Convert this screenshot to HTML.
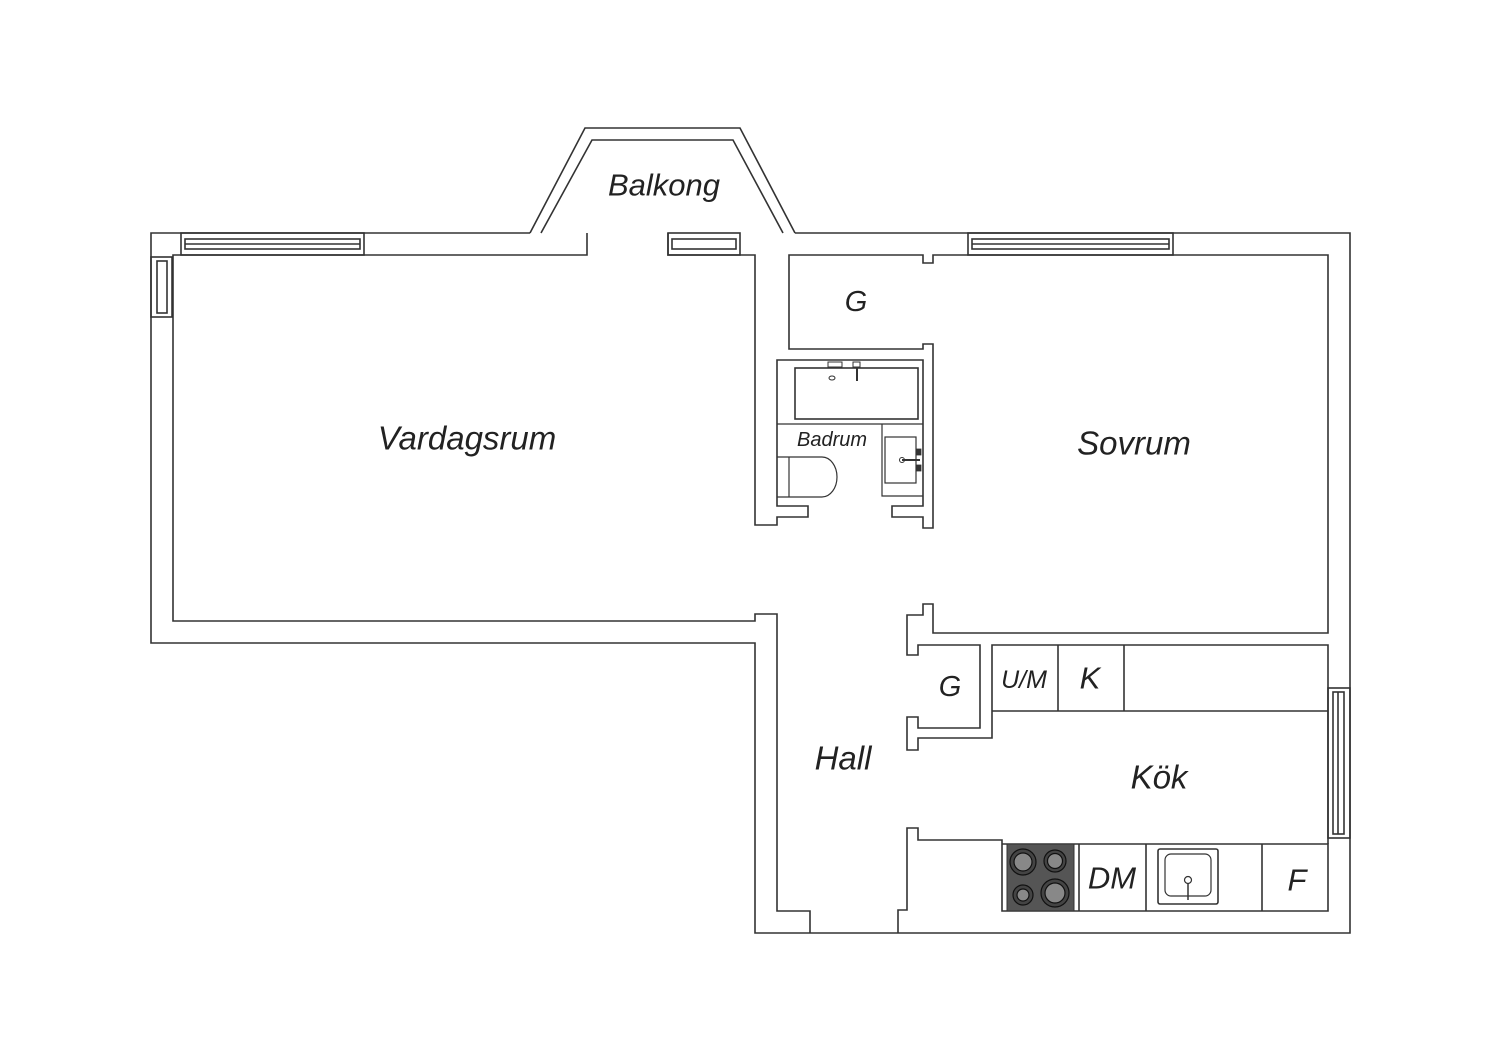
<!DOCTYPE html>
<html><head><meta charset="utf-8"><style>
html,body{margin:0;padding:0;background:#fff;}
svg{display:block;}
text{font-family:"Liberation Sans",sans-serif;font-style:italic;fill:#222;text-anchor:middle;dominant-baseline:central;}
</style></head><body>
<svg width="1500" height="1060" viewBox="0 0 1500 1060" xmlns="http://www.w3.org/2000/svg">
<g fill="none" stroke="#333" stroke-width="1.6" stroke-linejoin="miter">
<!-- outer -->
<polyline points="530,233 151,233 151,643 755,643 755,933 810,933"/>
<polyline points="898,933 1350,933 1350,233 795,233"/>
<line x1="810" y1="933" x2="898" y2="933"/>
<!-- balcony -->
<polyline points="530,233 585,128 740,128 795,233"/>
<polyline points="541,233 592,140 733,140 783,233"/>
<!-- vardagsrum -->
<polyline points="587,233 587,255 173,255 173,621 755,621 755,614 777,614 777,911 810,911 810,933"/>
<polyline points="668,233 668,255 755,255 755,525 777,525 777,517 808,517 808,506 777,506 777,360 923,360 923,506 892,506 892,517 923,517 923,528 933,528 933,344 923,344 923,349 789,349 789,255 923,255 923,263 933,263 933,255 1328,255 1328,633 933,633 933,604 923,604 923,615 907,615 907,655 918,655 918,645 980,645 980,728 918,728 918,717 907,717 907,750 918,750 918,738 992,738 992,645 1328,645 1328,844"/>
<line x1="992" y1="711" x2="1328" y2="711"/>
<line x1="1058" y1="645" x2="1058" y2="711"/>
<line x1="1124" y1="645" x2="1124" y2="711"/>
<!-- lower counter -->
<polyline points="898,933 898,910 907,910 907,828 918,828 918,840 1002,840 1002,911 1328,911 1328,844 1002,844"/>
<line x1="1079" y1="844" x2="1079" y2="911"/>
<line x1="1146" y1="844" x2="1146" y2="911"/>
<line x1="1262" y1="844" x2="1262" y2="911"/>
<!-- windows -->
<rect x="181" y="233" width="183" height="22"/>
<rect x="185" y="239" width="175" height="10"/>
<line x1="185" y1="244" x2="360" y2="244"/>
<rect x="668" y="233" width="72" height="22"/>
<rect x="672" y="239" width="64" height="10"/>
<rect x="968" y="233" width="205" height="22"/>
<rect x="972" y="239" width="197" height="10"/>
<line x1="972" y1="244" x2="1169" y2="244"/>
<rect x="151" y="257" width="21" height="60"/>
<rect x="157" y="261" width="10" height="52"/>
<rect x="1328" y="688" width="22" height="150"/>
<rect x="1333" y="692" width="11" height="142"/>
<line x1="1338" y1="692" x2="1338" y2="834"/>
<!-- bathroom -->
<rect x="795" y="368" width="123" height="51"/>
<rect x="828" y="362" width="14" height="5" stroke-width="1"/>
<rect x="853" y="362" width="7" height="5" stroke-width="1"/>
<line x1="857" y1="367" x2="857" y2="381" stroke-width="2"/>
<ellipse cx="832" cy="378" rx="3" ry="2" stroke-width="1"/>
<line x1="777" y1="424" x2="923" y2="424" stroke-width="1.2"/>
<polyline points="882,424 882,496 923,496" stroke-width="1.2"/>
<rect x="885" y="437" width="31" height="46" stroke-width="1.2"/>
<line x1="902" y1="460" x2="920" y2="460" stroke-width="2"/>
<circle cx="902" cy="460" r="2.5" stroke-width="1"/>
<rect x="916" y="449" width="5" height="6" fill="#333" stroke-width="0.8"/>
<rect x="916" y="465" width="5" height="6" fill="#333" stroke-width="0.8"/>
<path d="M777,457 L822,457 A15,20 0 0 1 837,477 A15,20 0 0 1 822,497 L777,497" stroke-width="1.2"/>
<line x1="789" y1="457" x2="789" y2="497" stroke-width="1.2"/>
<!-- sink -->
<rect x="1158" y="849" width="60" height="55" rx="2"/>
<rect x="1165" y="854" width="46" height="42" rx="6" stroke-width="1.2"/>
<circle cx="1188" cy="880" r="3.5" stroke-width="1.2"/>
<line x1="1188" y1="883" x2="1188" y2="900" stroke-width="1.5"/>
</g>
<!-- stove -->
<rect x="1007" y="844" width="67" height="67" fill="#555" stroke="#333"/>
<g stroke="#111" stroke-width="1.2" fill="#888">
<circle cx="1023" cy="862" r="13" fill="#444"/><circle cx="1023" cy="862" r="9"/>
<circle cx="1055" cy="861" r="11" fill="#444"/><circle cx="1055" cy="861" r="7.5"/>
<circle cx="1023" cy="895" r="10" fill="#444"/><circle cx="1023" cy="895" r="6"/>
<circle cx="1055" cy="893" r="14" fill="#444"/><circle cx="1055" cy="893" r="10"/>
</g>
<text x="664" y="185" font-size="31">Balkong</text>
<text x="467" y="438" font-size="33">Vardagsrum</text>
<text x="1134" y="443" font-size="33">Sovrum</text>
<text x="856" y="302" font-size="29">G</text>
<text x="832" y="440" font-size="20">Badrum</text>
<text x="950" y="687" font-size="29">G</text>
<text x="1024" y="680" font-size="25">U/M</text>
<text x="1090" y="678" font-size="31">K</text>
<text x="843" y="758" font-size="33">Hall</text>
<text x="1159" y="777" font-size="33">Kök</text>
<text x="1112" y="878" font-size="31">DM</text>
<text x="1297" y="880" font-size="31">F</text>
</svg>
</body></html>
